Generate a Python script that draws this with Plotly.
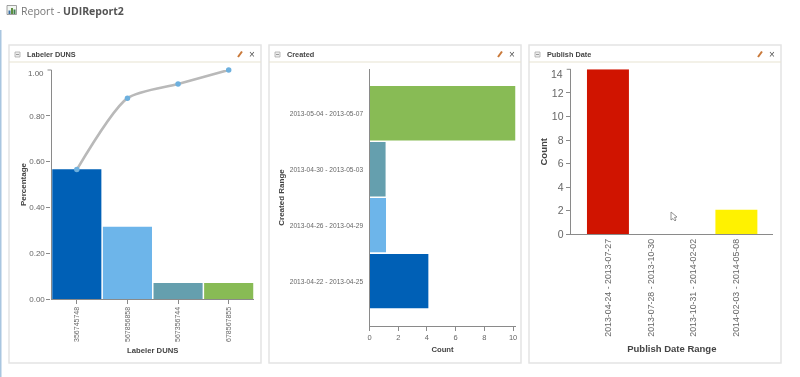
import plotly.graph_objects as go

W, H = 800, 377

# ---- data ----
duns_cats = ["356745748", "567856858", "567356744", "678567855"]
duns_pct = [0.567, 0.316, 0.07, 0.07]
duns_cum = [0.565, 0.877, 0.939, 1.0]
duns_colors = ["#0060B6", "#6DB5EA", "#659FAE", "#88BB55"]

created_cats = ["2013-04-22 - 2013-04-25", "2013-04-26 - 2013-04-29",
                "2013-04-30 - 2013-05-03", "2013-05-04 - 2013-05-07"]
created_counts = [4.1, 1.15, 1.12, 10.17]
created_colors = ["#0060B6", "#6DB5EA", "#659FAE", "#88BB55"]

publish_cats = ["2013-04-24 - 2013-07-27", "2013-07-28 - 2013-10-30",
                "2013-10-31 - 2014-02-02", "2014-02-03 - 2014-05-08"]
publish_counts = [14, 0, 0, 2.08]
publish_colors = ["#D01400", "#FFFFFF", "#FFFFFF", "#FFF200"]

panel_titles = ["Labeler DUNS", "Created", "Publish Date"]
AX = "#8a8a8a"
TXT = "#666666"
TITLE = "#444444"
FONT = "Liberation Sans"


def px(x):
    return x / W


def py(y):
    return 1 - y / H


def dom_x(a, b):
    return [px(a), px(b)]


def dom_y(top, bottom):
    return [py(bottom), py(top)]


fig = go.Figure()

# Panel 1
fig.add_bar(x=duns_cats, y=duns_pct, marker=dict(color=duns_colors, line=dict(width=0)),
            width=0.97, xaxis="x", yaxis="y", showlegend=False, cliponaxis=False)
fig.add_scatter(x=duns_cats, y=duns_cum, mode="lines+markers", xaxis="x", yaxis="y",
                line=dict(color="#B9B9B9", width=2.6, shape="spline", smoothing=0.7),
                marker=dict(color="#6DB0DE", size=5.5), showlegend=False, cliponaxis=False)
# Panel 2
fig.add_bar(y=created_cats, x=created_counts, orientation="h",
            marker=dict(color=created_colors, line=dict(width=0)),
            width=0.97, xaxis="x2", yaxis="y2", showlegend=False, cliponaxis=False)
# Panel 3
fig.add_bar(x=publish_cats, y=publish_counts,
            marker=dict(color=publish_colors, line=dict(width=0)),
            width=0.98, xaxis="x3", yaxis="y3", showlegend=False, cliponaxis=False)


def axis(**kw):
    base = dict(showgrid=False, zeroline=False, showline=True, linecolor=AX, linewidth=1.2,
                ticks="outside", tickcolor=AX, ticklen=4, tickwidth=1,
                tickfont=dict(family=FONT, color=TXT, size=8), automargin=False)
    base.update(kw)
    return base


def atitle(text, size, standoff):
    return dict(text=text, standoff=standoff,
                font=dict(family=FONT, size=size, color=TITLE, weight="bold"))


layout = dict(
    width=W, height=H, margin=dict(l=0, r=0, t=0, b=0), paper_bgcolor="#FFFFFF",
    plot_bgcolor="rgba(0,0,0,0)", bargap=0.03, showlegend=False,
    font=dict(family=FONT),
    xaxis=axis(domain=dom_x(51.5, 254), anchor="y", type="category", range=[-0.5, 3.5],
               tickangle=-90, tickfont=dict(family=FONT, color=TXT, size=7),
               title=atitle("Labeler DUNS", 7.7, 6)),
    yaxis=axis(domain=dom_y(70, 299), anchor="x", range=[0, 1], tickvals=[0, 0.2, 0.4, 0.6, 0.8],
               tickformat=".2f", title=atitle("Percentage", 8, 1)),
    xaxis2=axis(domain=dom_x(369.5, 515.5), anchor="y2", range=[0, 10.17], tickvals=[0, 2, 4, 6, 8, 10],
                tickfont=dict(family=FONT, color=TXT, size=7.5),
                title=atitle("Count", 7.7, 5)),
    yaxis2=axis(domain=dom_y(69, 326), anchor="x2", type="category", range=[-0.8, 3.79], ticks="",
                ticklabelstandoff=4,
                tickfont=dict(family=FONT, color=TXT, size=6.6),
                title=atitle("Created Range", 8, 3)),
    xaxis3=axis(domain=dom_x(570.7, 773), anchor="y3", type="category", range=[-0.87, 3.855], ticks="",
                tickangle=-90, tickfont=dict(family=FONT, color=TXT, size=8.8),
                title=atitle("Publish Date Range", 9.5, 9)),
    yaxis3=axis(domain=dom_y(69.3, 234.3), anchor="x3", range=[0, 14], tickvals=[0, 2, 4, 6, 8, 10, 12],
                tickfont=dict(family=FONT, color=TXT, size=10.5),
                title=atitle("Count", 9.5, 2)),
)

shapes = []
ann = []

# Window frame stripe on the left edge
shapes.append(dict(type="rect", xref="paper", yref="paper", x0=0, x1=px(1.5), y0=0, y1=py(30),
                   fillcolor="#A9C6E0", line_width=0, layer="below"))

# Panels
for i, (x0, x1) in enumerate([(9, 261), (269, 521), (529, 781)]):
    shapes.append(dict(type="rect", xref="paper", yref="paper", x0=px(x0), x1=px(x1), y0=py(363), y1=py(45),
                       fillcolor="#FFFFFF", line=dict(color="#E4E4E4", width=1.5), layer="below"))
    shapes.append(dict(type="line", xref="paper", yref="paper", x0=px(x0), x1=px(x1), y0=py(62), y1=py(62),
                       line=dict(color="#E8E4D2", width=1.2), layer="below"))
    # collapse box
    shapes.append(dict(type="rect", xref="paper", yref="paper", x0=px(x0 + 6), x1=px(x0 + 11), y0=py(57), y1=py(52),
                       fillcolor="#EEEEEE", line=dict(color="#AAAAAA", width=0.8), layer="below"))
    shapes.append(dict(type="line", xref="paper", yref="paper", x0=px(x0 + 7), x1=px(x0 + 10), y0=py(54.5), y1=py(54.5),
                       line=dict(color="#888888", width=0.8), layer="below"))
    # pencil
    shapes.append(dict(type="line", xref="paper", yref="paper", x0=px(x1 - 23), x1=px(x1 - 19), y0=py(57), y1=py(51.5),
                       line=dict(color="#C9793A", width=2), layer="below"))
    ann.append(dict(x=px(x0 + 15.5), y=py(54), xref="paper", yref="paper", text=panel_titles[i], showarrow=False,
                    xanchor="left", yanchor="middle",
                    font=dict(family=FONT, size=7.3, color="#444444", weight="bold")))
    ann.append(dict(x=px(x1 - 9), y=py(54), xref="paper", yref="paper", text="×", showarrow=False,
                    xanchor="center", yanchor="middle", font=dict(family=FONT, size=10, color="#555555")))

# Title & icon
shapes.append(dict(type="rect", xref="paper", yref="paper", x0=px(7), x1=px(16.5), y0=py(14.5), y1=py(5.5),
                   fillcolor="#F2F6F2", line=dict(color="#8A8A8A", width=0.8)))
for a, b, top, c in [(8.5, 10.5, 10.5, "#3A6EA5"), (11, 13, 8, "#5F8F3F"), (13.5, 15.5, 9.5, "#3F7F4F")]:
    shapes.append(dict(type="rect", xref="paper", yref="paper", x0=px(a), x1=px(b), y0=py(14), y1=py(top),
                       fillcolor=c, line_width=0))
ann.append(dict(x=px(19), y=py(10.5), xref="paper", yref="paper",
                text='<span style="color:#777777">Report - </span><b>UDIReport2</b>',
                showarrow=False, xanchor="left", yanchor="middle",
                font=dict(family="Open Sans", size=10.5, color="#555555")))

# Top tick labels shifted down inside the axis, as drawn in the reference
ann.append(dict(x=px(45.5), y=py(73), xref="paper", yref="paper", text="1.00", showarrow=False, xanchor="right",
                yanchor="middle", font=dict(family=FONT, color=TXT, size=8)))
shapes.append(dict(type="line", xref="paper", yref="paper", x0=px(47.5), x1=px(51.5), y0=py(70), y1=py(70),
                   line=dict(color=AX, width=1)))
ann.append(dict(x=px(565), y=py(74), xref="paper", yref="paper", text="14", showarrow=False, xanchor="right",
                yanchor="middle", font=dict(family=FONT, color=TXT, size=10.5)))
shapes.append(dict(type="line", xref="paper", yref="paper", x0=px(566.7), x1=px(570.7), y0=py(69.3), y1=py(69.3),
                   line=dict(color=AX, width=1)))

# Mouse cursor
shapes.append(dict(type="path", xref="paper", yref="paper",
                   path=(f"M {px(671)} {py(212)} L {px(671)} {py(220)} L {px(673)} {py(218.5)} "
                         f"L {px(675)} {py(221)} L {px(676)} {py(220)} L {px(674.5)} {py(217.5)} "
                         f"L {px(677)} {py(217)} Z"),
                   fillcolor="#FFFFFF", line=dict(color="#777777", width=0.8)))

layout["shapes"] = shapes
layout["annotations"] = ann
fig.update_layout(**layout)
fig.write_html("out.html", config={"displayModeBar": False},
               post_script="document.body.style.margin='0';document.body.style.overflow='hidden';"
                           "document.body.style.filter='blur(0.4px)';")
